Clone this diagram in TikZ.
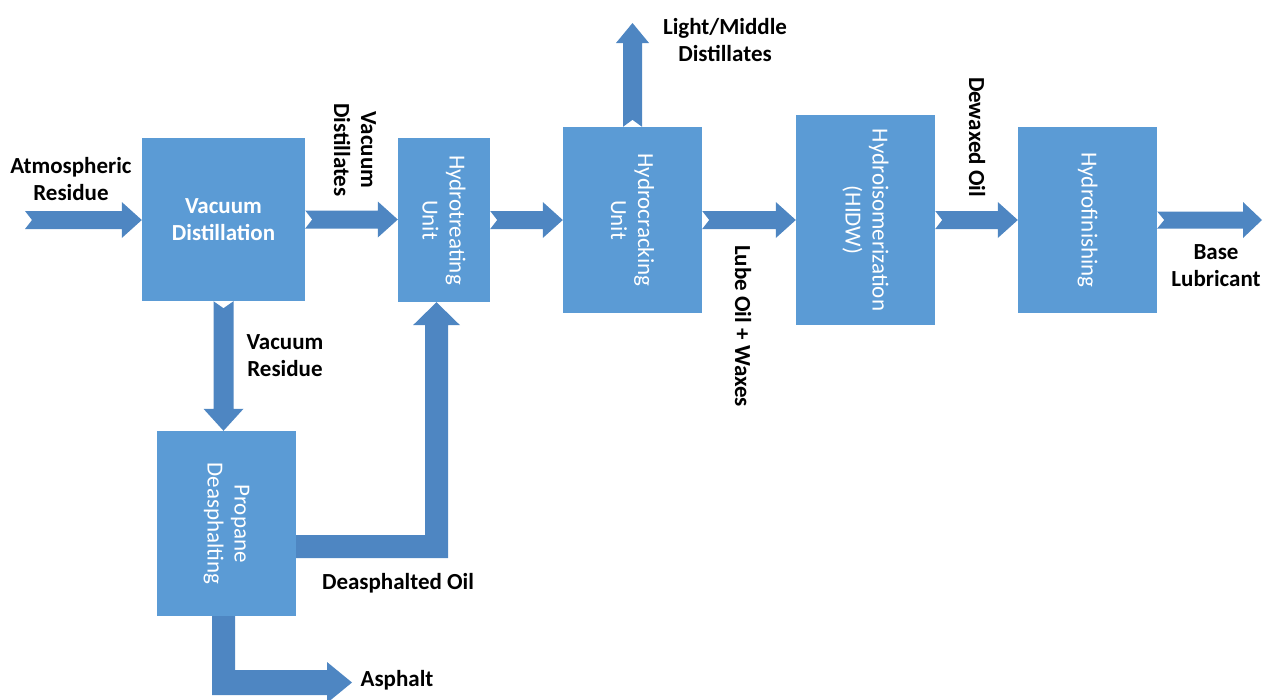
\documentclass[tikz,border=0pt]{standalone}
\usepackage{fontspec}
\setmainfont{Carlito}
\usetikzlibrary{calc}
\definecolor{boxblue}{HTML}{5B9BD5}
\definecolor{arrblue}{HTML}{4E86C2}
\tikzset{
  box/.style={fill=boxblue, draw=none, inner sep=0pt},
  boxtext/.style={rotate=-90, text=white, align=center, inner sep=0pt,
    font=\fontsize{23}{27}\selectfont},
  lbl/.style={font=\bfseries\fontsize{23}{27}\selectfont, align=center, text=black, inner sep=0pt},
  vlbl/.style={lbl, rotate=-90},
  arr/.style={fill=arrblue, draw=none},
}
% notched block arrows: #1 start, #2 end, #3 half shaft, #4 half head, #5 head length
\newcommand\ArrRight[5]{%
  \fill[arr] let \p1=(#1), \p2=(#2) in
    ({\x1},{\y1+#3}) -- ({\x2-#5},{\y1+#3}) -- ({\x2-#5},{\y1+#4}) -- ({\x2},{\y1})
    -- ({\x2-#5},{\y1-#4}) -- ({\x2-#5},{\y1-#3}) -- ({\x1},{\y1-#3}) -- ({\x1+7pt},{\y1}) -- cycle;}
\newcommand\ArrUp[5]{%
  \fill[arr] let \p1=(#1), \p2=(#2) in
    ({\x1-#3},{\y1}) -- ({\x1-#3},{\y2-#5}) -- ({\x1-#4},{\y2-#5}) -- ({\x1},{\y2})
    -- ({\x1+#4},{\y2-#5}) -- ({\x1+#3},{\y2-#5}) -- ({\x1+#3},{\y1}) -- ({\x1},{\y1+7pt}) -- cycle;}
\newcommand\ArrDown[5]{%
  \fill[arr] let \p1=(#1), \p2=(#2) in
    ({\x1-#3},{\y1}) -- ({\x1-#3},{\y2+#5}) -- ({\x1-#4},{\y2+#5}) -- ({\x1},{\y2})
    -- ({\x1+#4},{\y2+#5}) -- ({\x1+#3},{\y2+#5}) -- ({\x1+#3},{\y1}) -- ({\x1},{\y1-7pt}) -- cycle;}
\begin{document}
\begin{tikzpicture}[x=1pt, y=-1pt]
\path[use as bounding box] (0,0) rectangle (1263,699);

% boxes
\node[box, minimum width=163pt, minimum height=163pt] (vd) at (223.5,219.5) {};
\node[text=white, align=center, inner sep=0pt, font=\bfseries\fontsize{23}{27}\selectfont] at (vd.center) {Vacuum\\Distillation};
\node[box, minimum width=92pt, minimum height=164pt,
  label={[boxtext]center:Hydrotreating\\Unit}] (ht) at (444,220) {};
\node[box, minimum width=139pt, minimum height=186pt,
  label={[boxtext]center:Hydrocracking\\Unit}] (hc) at (632.5,220) {};
\node[box, minimum width=139pt, minimum height=210pt,
  label={[boxtext]center:Hydroisomerization\\(HIDW)}] (hi) at (865.5,220) {};
\node[box, minimum width=139pt, minimum height=186pt,
  label={[boxtext]center:Hydrofinishing}] (hf) at (1087.5,220) {};
\node[box, minimum width=139pt, minimum height=185pt,
  label={[boxtext]center:Propane\\Deasphalting}] (pd) at (226.5,523.5) {};

% free ends
\coordinate (in) at (25,220);
\coordinate (out) at (1262,220);
\coordinate (lmtip) at (632,23);

% straight arrows
\ArrRight{in}{vd.west}{9pt}{18pt}{20pt}
\ArrRight{vd.east}{ht.west}{9pt}{18pt}{20pt}
\ArrRight{ht.east}{hc.west}{9pt}{18pt}{20pt}
\ArrRight{hc.east}{hi.west}{9pt}{18pt}{20pt}
\ArrRight{hi.east}{hf.west}{9pt}{18pt}{20pt}
\ArrRight{hf.east}{out}{8.5pt}{18pt}{19pt}
\ArrUp{hc.north}{lmtip}{9.5pt}{16.5pt}{20pt}
\ArrDown{vd.south}{pd.north}{10pt}{20pt}{22pt}

% bent arrow: deasphalted oil
\fill[arr] let \p1=(pd.east), \p2=(ht.south) in
  ({\x1},{\y1-11.5pt}) -- ({\x2-19pt},{\y1-11.5pt}) -- ({\x2-19pt},{\y2-23pt})
  -- ({\x2-31pt},{\y2-23pt}) -- ({\x2-7.5pt},{\y2}) -- ({\x2+16pt},{\y2-23pt})
  -- ({\x2+4pt},{\y2-23pt}) -- ({\x2+4pt},{\y1-34.5pt}) -- ({\x1},{\y1-34.5pt}) -- cycle;

% bent arrow: asphalt
\coordinate (asptip) at (352,682.5);
\fill[arr] let \p1=(pd.south), \p2=(asptip) in
  ({\x1-14.5pt},{\y1}) -- ({\x1+8.5pt},{\y1}) -- ({\x1+8.5pt},{\y2+12.5pt})
  -- ({\x2-25pt},{\y2+12.5pt}) -- ({\x2-25pt},{\y2+20.5pt}) -- ({\x2},{\y2})
  -- ({\x2-25pt},{\y2-20.5pt}) -- ({\x2-25pt},{\y2-12.5pt}) -- ({\x1-14.5pt},{\y2-12.5pt}) -- cycle;

% labels
\node[lbl] (l1) at (71,179) {Atmospheric\\Residue};
\node[vlbl] (l2) at (355,150) {Vacuum\\Distillates};
\node[lbl] (l3) at (725,40) {Light/Middle\\Distillates};
\node[vlbl] (l4) at (743,326) {Lube Oil + Waxes};
\node[vlbl] (l5) at (977,137) {Dewaxed Oil};
\node[lbl] (l6) at (1216,266) {Base\\Lubricant};
\node[lbl] (l7) at (285,356) {Vacuum\\Residue};
\node[lbl] (l8) at (398,583) {Deasphalted Oil};
\node[lbl] (l9) at (397,680) {Asphalt};
\end{tikzpicture}
\end{document}
